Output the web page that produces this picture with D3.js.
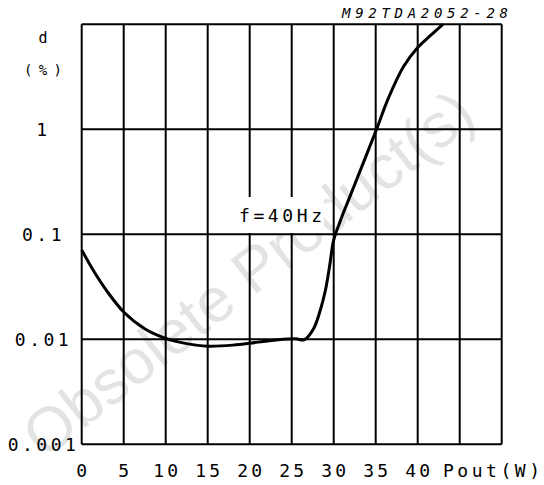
<!DOCTYPE html>
<html>
<head>
<meta charset="utf-8">
<script src="https://cdn.jsdelivr.net/npm/d3@7"></script>
<style>
  html, body { margin: 0; padding: 0; background: #fff; }
  svg { display: block; }
  text { font-family: "DejaVu Sans Mono", monospace; fill: #000; }
</style>
</head>
<body>
<svg id="chart" width="544" height="485"></svg>
<script>
// ---- data ----
const pout = [0, 1.5, 3, 5, 7.5, 10, 12.5, 15, 18, 21, 24, 25.5, 26.5, 27.6, 28.4, 29, 29.5, 30, 30.8, 31.7, 33.3, 35.1, 36.5, 38.3, 40, 41.5, 43];
const dist = [0.071, 0.0437, 0.0288, 0.0182, 0.0126, 0.0102, 0.0091, 0.0086, 0.0088, 0.0094, 0.0100, 0.0101, 0.0099, 0.0126, 0.0189, 0.029, 0.049, 0.088, 0.135, 0.206, 0.432, 1.0, 1.97, 3.94, 6.0, 7.8, 10];
const xGrid = [0, 5, 10, 15, 20, 25, 30, 35, 40, 45, 50];
const xTickLabels = ["0", "5", "10", "15", "20", "25", "30", "35", "40"];
const yGrid = [0.001, 0.01, 0.1, 1, 10];
const yTickLabels = ["0.001", "0.01", "0.1", "1"];
const yTickValues = [0.001, 0.01, 0.1, 1];
const xAxisTitle = "Pout(W)";
const yAxisTitle = ["d", "(%)"];
const annotation = "f=40Hz";
const codeLabel = "M92TDA2052-28";
const watermark = "Obsolete Product(s)";

// ---- layout ----
const svg = d3.select("#chart");
const L = 81.7, R = 501.7, T = 24.3, B = 444.3;
const x = d3.scaleLinear().domain([0, 50]).range([L, R]);
const y = d3.scaleLog().domain([0.001, 10]).range([B, T]);

// watermark (behind)
svg.append("text")
  .attr("transform", "translate(44,460) rotate(-38)")
  .style("font-family", "Liberation Sans, Arial, sans-serif")
  .style("font-size", "62px")
  .style("fill", "#e3e3e3")
  .text(watermark);

// grid
const g = svg.append("g").attr("stroke", "#000").attr("stroke-width", 2);
g.selectAll("line.v").data(xGrid).join("line")
  .attr("class", "v")
  .attr("x1", d => x(d)).attr("x2", d => x(d))
  .attr("y1", T).attr("y2", B);
g.selectAll("line.h").data(yGrid).join("line")
  .attr("class", "h")
  .attr("x1", L).attr("x2", R)
  .attr("y1", d => y(d)).attr("y2", d => y(d));

// annotation with white background
svg.append("rect")
  .attr("x", 237).attr("y", 197).attr("width", 87).attr("height", 36)
  .attr("fill", "#fff");
svg.append("text")
  .attr("x", 239).attr("y", 222)
  .style("font-size", "18px")
  .attr("textLength", 83).attr("lengthAdjust", "spacing")
  .text(annotation);

// curve
const data = pout.map((p, i) => [p, dist[i]]);
svg.append("path")
  .datum(data)
  .attr("fill", "none")
  .attr("stroke", "#000")
  .attr("stroke-width", 3)
  .attr("stroke-linejoin", "round")
  .attr("d", d3.line().x(d => x(d[0])).y(d => y(d[1])).curve(d3.curveCatmullRom.alpha(0.5)));

// y tick labels
svg.selectAll("text.yt").data(yTickValues).join("text")
  .attr("class", "yt")
  .attr("x", 43.5)
  .attr("y", d => y(d) + 6.5)
  .attr("text-anchor", "middle")
  .style("font-size", "18px")
  .style("letter-spacing", "3.5px")
  .text((d, i) => yTickLabels[i]);

// x tick labels
svg.selectAll("text.xt").data(xTickLabels).join("text")
  .attr("class", "xt")
  .attr("x", d => x(+d) + 1.5)
  .attr("y", 477)
  .attr("text-anchor", "middle")
  .style("font-size", "18px")
  .style("letter-spacing", "3px")
  .text(d => d);

// x axis title
svg.append("text")
  .attr("x", 443).attr("y", 477)
  .style("font-size", "18px")
  .attr("textLength", 97).attr("lengthAdjust", "spacing")
  .text(xAxisTitle);

// y axis title
svg.append("text")
  .attr("x", 43).attr("y", 43)
  .attr("text-anchor", "middle")
  .style("font-size", "15px")
  .text(yAxisTitle[0]);
svg.append("text")
  .attr("x", 24).attr("y", 75)
  .style("font-size", "14px")
  .attr("textLength", 38).attr("lengthAdjust", "spacing")
  .text(yAxisTitle[1]);

// code label
svg.append("text")
  .attr("x", 342).attr("y", 18)
  .style("font-size", "14px")
  .style("font-style", "italic")
  .attr("textLength", 166).attr("lengthAdjust", "spacing")
  .text(codeLabel);
</script>
</body>
</html>
